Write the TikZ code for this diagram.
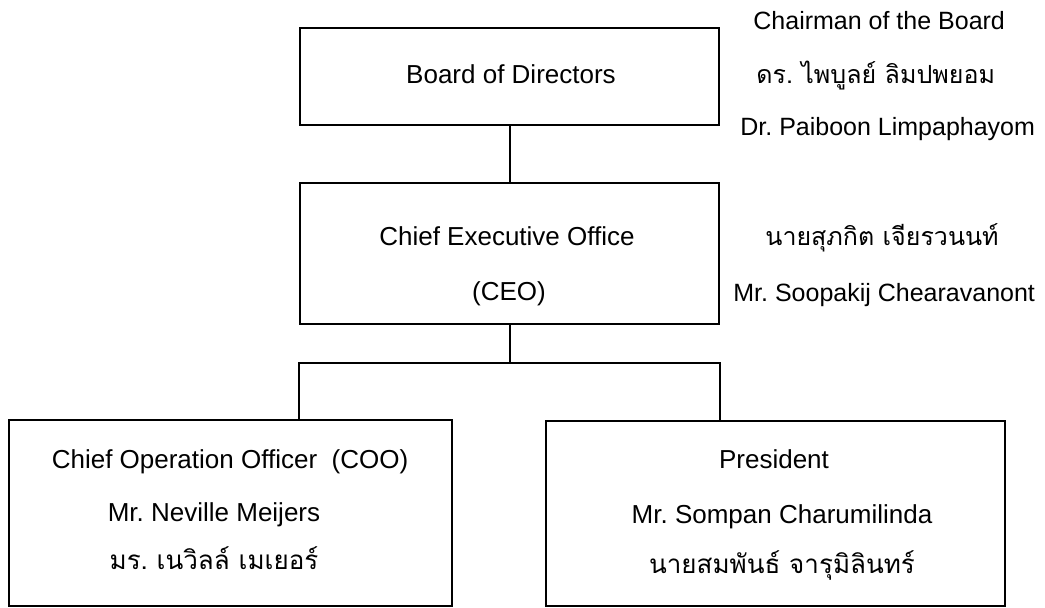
\documentclass[tikz,border=0pt]{standalone}
\usepackage{fontspec}
\setmainfont{Liberation Sans}
\newfontfamily\thaifont[Script=Thai]{Loma}
\frenchspacing

\begin{document}
\begin{tikzpicture}[x=0.5pt,y=-0.5pt,
  box/.style={draw,line width=1pt,inner sep=0pt},
  txt/.style={anchor=base,inner sep=0pt,font=\fontsize{13pt}{15pt}\selectfont},
  side/.style={anchor=base west,inner sep=0pt,font=\fontsize{12.5pt}{15pt}\selectfont}]
\useasboundingbox (0,0) rectangle (1045,608);
\node[box,minimum width=209.5pt,minimum height=48.5pt] (board) at (509.5,76.5) {};
\node[box,minimum width=209.5pt,minimum height=70.5pt] (ceo) at (509.5,253.5) {};
\node[box,minimum width=221.5pt,minimum height=93pt] (coo) at (230.5,513) {};
\node[box,minimum width=229.5pt,minimum height=92.5pt] (pres) at (775.5,513.5) {};
\draw[line width=1pt] (board) -- (ceo);
\draw[line width=1pt] (ceo.south) -- ++(0,38) coordinate (fork);
\draw[line width=1pt] (ceo.south west |- coo.north) |- (fork) -| (ceo.south east |- pres.north);
\node[txt] (boardname) at (511,84) {Board of Directors};
\node[txt] (ceoname) at (507,246) {Chief Executive Office};
\node[txt] (ceoshort) at (509,301) {(CEO)};
\node[txt] (cooname) at (230,469) {Chief Operation Officer\ \ (COO)};
\node[txt] (coomr) at (214,522) {Mr. Neville Meijers};
\node[txt] (coothai) at (214,570) {\thaifont มร. เนวิลล์ เมเยอร์};
\node[txt] (presname) at (774,469) {President};
\node[txt] (presmr) at (782,524) {Mr. Sompan Charumilinda};
\node[txt] (presthai) at (782,574) {\thaifont นายสมพันธ์ จารุมิลินทร์};
\node[side] (chair) at (753,30) {Chairman of the Board};
\node[side] (chairthai) at (756,84) {\thaifont ดร. ไพบูลย์ ลิมปพยอม};
\node[side] (chairmr) at (740,136) {Dr. Paiboon Limpaphayom};
\node[side] (ceothai) at (765,246) {\thaifont นายสุภกิต เจียรวนนท์};
\node[side] (ceomr) at (733,302) {Mr. Soopakij Chearavanont};
\end{tikzpicture}
\end{document}
